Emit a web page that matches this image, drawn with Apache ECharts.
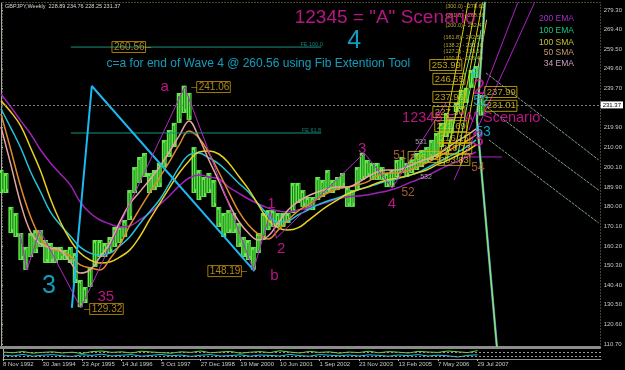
<!DOCTYPE html>
<html>
<head>
<meta charset="utf-8">
<title>GBPJPY Weekly</title>
<script src="https://cdn.jsdelivr.net/npm/echarts@6/dist/echarts.min.js"></script>
<style>
html, body { margin: 0; padding: 0; background: #000; }
#main { width: 625px; height: 370px; }
</style>
</head>
<body>
<div id="main"></div>
<script>
// ---- data (weeks counted from 8 Nov 1992) ----
var lastBar = [228.89, 234.76, 228.25, 231.37];   // O H L C
var dateLabels = ['8 Nov 1992','30 Jan 1994','23 Apr 1995','14 Jul 1996','5 Oct 1997','27 Dec 1998',
	'19 Mar 2000','10 Jun 2001','1 Sep 2002','23 Nov 2003','13 Feb 2005','7 May 2006','29 Jul 2007'];
var dateStepWeeks = 64;
var priceTicks = [110.70,120.60,130.50,140.40,150.30,160.20,170.10,180.00,189.90,200.10,210.00,219.90,
	239.70,249.60,259.50,269.40,279.30];

// price range, one sample every 8 weeks
var sampleWeeks = 8;
var priceHigh = [198.5,197.0,179.9,176.8,166.7,159.7,166.7,168.2,168.2,163.2,
	161.7,159.7,159.7,158.2,159.7,156.6,143.0,139.5,149.6,163.2,
	163.2,161.7,164.7,169.8,169.8,173.3,188.4,200.0,205.1,207.1,
	197.0,198.5,202.1,213.7,218.7,222.3,237.4,241.1,237.4,210.1,
	198.5,195.0,197.0,193.5,179.9,176.8,178.3,176.8,171.8,164.7,
	163.2,159.7,166.7,176.8,178.3,178.3,176.8,176.8,176.8,192.0,
	192.0,188.4,184.9,184.9,195.0,193.5,198.5,193.5,195.0,197.0,
	189.9,188.4,200.0,207.1,203.6,202.1,202.1,200.0,197.0,198.5,
	203.6,205.1,202.1,203.6,207.1,208.6,210.1,213.7,217.2,222.3,
	227.3,224.3,232.4,238.9,240.0,249.0,251.0,236.4];
var priceLow = [186.9,186.9,166.7,164.7,153.1,148.1,154.6,156.6,159.7,151.6,
	151.6,151.6,153.1,153.1,151.6,141.5,129.3,131.4,139.5,149.6,
	154.6,154.6,156.6,159.7,161.7,164.7,173.3,186.9,192.0,195.0,
	186.9,188.4,189.9,200.0,205.1,210.1,222.3,227.3,223.8,186.9,
	183.4,184.9,186.9,179.9,169.8,164.7,166.7,166.7,159.7,154.6,
	153.1,148.2,156.6,163.2,168.2,169.8,169.8,169.8,171.8,176.8,
	181.9,179.9,178.3,178.3,183.4,184.9,186.9,186.9,188.4,189.9,
	179.9,179.9,188.4,193.5,195.0,193.5,193.5,193.5,189.9,189.9,
	195.0,197.0,195.0,197.0,198.5,200.0,202.1,203.6,205.1,210.1,
	215.2,217.0,227.8,229.3,232.4,240.0,245.0,226.0];

// moving averages, one value every 16 weeks
var maWeeks = 16;
var ema200 = [236.9,230.3,223.3,216.7,208.6,202.1,196.5,191.0,182.4,176.8,
	173.3,171.3,169.8,170.3,173.3,176.8,180.9,185.4,190.5,194.5,
	196.0,195.0,194.0,189.9,186.9,183.9,181.4,179.3,177.8,177.3,
	178.3,179.3,180.9,182.4,183.9,184.9,185.4,185.9,186.9,187.9,
	189.4,191.5,193.5,195.5,198.0,200.5,202.6,205.1,207.6];
var ema100 = [229.3,219.7,209.6,197.5,187.4,177.3,170.8,165.2,159.6,156.6,
	155.6,156.6,160.2,164.7,171.3,177.3,183.4,191.5,200.0,206.1,
	207.1,204.6,201.6,197.0,192.0,187.4,181.4,175.8,172.3,172.8,
	175.8,178.3,180.9,182.9,184.4,186.4,188.4,189.9,191.5,193.0,
	194.0,195.5,197.0,199.5,202.1,204.6,207.1,210.1,213.7];
var sma100 = [233.4,227.8,220.7,209.6,198.0,183.9,172.3,163.2,156.6,153.1,
	151.6,152.1,154.6,158.1,164.7,173.3,181.4,189.4,197.0,203.1,
	207.6,208.1,206.6,202.1,195.5,188.9,180.9,173.3,169.3,168.2,
	169.3,172.8,176.8,180.4,183.4,186.4,188.4,189.9,192.0,193.5,
	194.5,195.5,197.0,198.5,201.1,203.1,205.6,208.1,211.2];
var sma50 = [226.8,208.6,189.9,174.8,164.2,158.7,157.6,155.1,150.6,149.1,
	148.1,153.6,160.7,170.3,178.8,186.9,194.5,202.6,211.2,218.2,
	214.7,207.1,197.5,187.4,177.8,170.8,166.2,163.7,168.2,173.3,
	177.8,180.9,183.9,186.9,188.9,189.9,191.0,192.5,195.5,197.0,
	197.0,198.0,200.0,202.1,204.6,207.6,210.6,212.9,216.2];
var ema34 = [220.2,201.1,181.4,167.2,161.2,159.2,158.1,152.1,146.5,148.1,
	154.6,161.7,172.3,181.4,187.4,193.5,200.0,207.6,215.7,223.3,
	214.7,203.6,193.0,181.9,172.8,166.7,163.2,165.2,171.8,178.3,
	182.4,185.4,187.4,188.9,189.9,189.9,192.0,195.0,197.5,198.5,
	198.5,200.0,202.1,204.0,206.1,209.3,212.9,215.8,219.3];

// oscillator in the lower window, one value every 16 weeks
var oscGreen = [70,62,75,58,66,72,60,68,55,74,80,66,72,60,78,70,64,58,72,66,80,62,70,76,58,
	68,74,64,82,70,60,76,66,72,58,70,64,78,62,74,68,60,76,70,66,80,72,64,84];
var oscCyan = [40,30,46,28,38,44,32,26,42,36,48,30,38,44,28,36,46,32,40,26,38,44,30,34,42,
	28,40,36,30,46,34,28,44,38,32,40,30,42,36,28,40,34,44,30,38,32,20,36,42];
var oscLevels = [70, 25];

// drawn objects: [week, price] anchors
var waveCyanLine = [[114.5,128.9],[146.8,240.9],[409.7,147.5]];
var waveZigzag = [[30.6,166.7],[41.9,148.0],[62.9,168.2],[129.0,128.9],[296.8,240.4],[408.1,148.0],
	[435.5,177.3],[445.2,164.2],[587.1,207.1],[632.3,189.4],[719.4,232.4]];
var fe100 = [[112.9,260.56],[517.7,260.56]];
var fe618 = [[112.9,217.2],[517.7,217.2]];
var channelLines = [
	[[783.9,247.5],[966.1,203.6]],
	[[780.6,231.3],[966.1,188.4]],
	[[788.7,213.7],[966.1,171.8]]
];
var purpleRays = [
	[[732.3,193.5],[864.5,284.4]],
	[[756.5,218.7],[837.1,284.4]],
	[[756.5,205.1],[809.7,205.1]]
];
var dropLine = [[782.3,284.4],[769.4,223.8],[801.6,109.2]];
var yellowStreaks = [
	[[708,202.6],[756,284.4]],
	[[721,203.6],[769,284.4]],
	[[734,208.6],[779,284.4]],
	[[743,201.1],[785,274.3]]
];
var greenStreaks = [
	[[716,201.1],[764,264.2]],
	[[737,203.6],[776,269.2]]
];

// text notes: [text, week, price]
var waveMagenta = [['a',264.5,240.4],['35',169.4,134.4],['b',442,145.0],['1',437,181.4],
	['2',453,158.6],['3',584,209.1],['4',632,181.4]];
var waveCyan = [['3',77.4,140.0],['4',571,263.6]];
var subOrange = [['52',658,186.9],['51',645,205.6],['54',771,199.5]];
var subGray = [['531',679,212.7],['532',687,195.0]];
var boxesDashLeft = [['241.06',339,240.4],['129.32',166,128.4]];
var boxesDashRight = [['260.56',211,260.6],['148.19',366,147.5]];
var fibBoxes = [['205.12',684,205.1],['203.83',732,203.6],['253.99',719,251.5],['246.55',724,244.5],
	['237.96',724,235.4],['237.99',808,237.9],['231.01',808,230.9],['227.30',724,227.8],
	['222.69',727,220.7],['216.15',732,214.7],['210.73',735,209.6]];
var fibTexts = [['(300.0) - 278.61',750,280.8],['(261.8) - 268.58',750,276.3],['(200.0) - 252.47',750,271.7],
	['(161.8) - 242.50',747,265.2],['(138.2) - 236.38',747,261.6],['(127.2) - 233.51',747,258.1],
	['(100.0) - 226.44',747,254.6]];
var clusterMagenta = [['2',773,239.9],['3',771,213.7]];
var clusterCyan = [['8',766,247.0],['52',776,233.4],['53',779,217.7]];
var scenarioBig = [['12345 = "A" Scenario',621,275.3]];
var scenarioSmall = [['12345 = "A" Scenario',760,224.8]];
var comment = [['c=a for end of Wave 4 @ 260.56 using Fib Extention Tool',416,252.0]];
var feLabels = [['FE 100.0',502,262.1],['FE 61.8',502,218.7]];

var maNames = ['200 EMA','100 EMA','100 SMA','50 SMA','34 EMA'];

// ---- chart ----
var FONT = "'Liberation Sans', Arial, sans-serif";
var chart = echarts.init(document.getElementById('main'));

var priceData = priceHigh.map(function(h, i){ return [i * sampleWeeks, priceLow[i], h]; });
function maData(arr){ return arr.map(function(v, i){ return [i * maWeeks, v]; }); }

function seg(points, color, width, z, type){
	return {type:'line', xAxisIndex:0, yAxisIndex:0, data:points, symbol:'none', silent:true,
		lineStyle:{color:color, width:width, type:type || 'solid'}, z:z || 4};
}
function maLine(arr, color){
	return {type:'line', xAxisIndex:0, yAxisIndex:0, data:maData(arr), symbol:'none', smooth:0.4,
		silent:true, lineStyle:{color:color, width:1.5}, z:3};
}
function notes(list, label, z){
	return {type:'scatter', xAxisIndex:0, yAxisIndex:0, symbolSize:1, silent:true, z:z || 6,
		itemStyle:{color:'transparent'},
		data:list.map(function(n){ return {name:n[0], value:[n[1], n[2]]}; }),
		label:Object.assign({show:true, position:'inside', formatter:'{b}', fontFamily:FONT}, label)};
}
var MAGENTA = '#e41ca4';
var CYAN = '#18c4ec';
var boxRich = {
	d:{color:'#c89a00', fontSize:10, fontFamily:FONT},
	b:{color:'#d8a820', fontSize:10, fontFamily:FONT, borderColor:'#c89a00', borderWidth:1, padding:[1,1,0,2]}
};

var series = [];
// weekly range bars, drawn at sample resolution
series.push({
	type:'custom', xAxisIndex:0, yAxisIndex:0, z:2, silent:true,
	encode:{x:0, y:[1,2]},
	data:priceData,
	renderItem:function(params, api){
		var top = api.coord([api.value(0), api.value(2)]);
		var bot = api.coord([api.value(0), api.value(1)]);
		var w = api.size([sampleWeeks, 0])[0];
		return {type:'group', children:[
			{type:'rect', shape:{x:top[0] - w / 2, y:top[1], width:w, height:bot[1] - top[1]}, style:{fill:'#6ae452'}},
			{type:'line', shape:{x1:top[0] - 0.5, y1:top[1] + 3, x2:top[0] - 0.5, y2:bot[1] - 1}, style:{stroke:'#0b860b', lineWidth:1}},
			{type:'line', shape:{x1:top[0] + 1.5, y1:top[1] + 1, x2:top[0] + 1.5, y2:bot[1] - 4}, style:{stroke:'#1c9c18', lineWidth:1}}
		]};
	}
});
series.push(maLine(ema200, '#a020b8'));
series.push(maLine(ema100, '#22c4dc'));
series.push(maLine(sma100, '#e8d020'));
series.push(maLine(sma50, '#e08a30'));
series.push(maLine(ema34, '#e6a6a0'));

// current price line
series.push({type:'line', xAxisIndex:0, yAxisIndex:0, data:[], silent:true,
	markLine:{symbol:'none', silent:true, data:[{yAxis:lastBar[3]}],
		lineStyle:{color:'#7c7c7c', type:[2,2], width:1},
		label:{position:'end', distance:1, formatter:lastBar[3].toFixed(2), backgroundColor:'#fff',
			color:'#000', fontSize:6, fontFamily:FONT, padding:[1,2,0,2]}}});

series.push(seg(fe100, '#1a9080', 1));
series.push(seg(fe618, '#1a9080', 1));
series.push(seg(waveCyanLine, '#1cb8f0', 2));
series.push(seg(waveZigzag, '#b02cc4', 1));
channelLines.forEach(function(l){ series.push(seg(l, '#7fa08c', 1, 4, [3,1])); });
purpleRays.forEach(function(l){ series.push(seg(l, '#b020c8', 1)); });
yellowStreaks.forEach(function(l){ series.push(seg(l, '#e0d010', 1)); });
greenStreaks.forEach(function(l){ series.push(seg(l, '#80f060', 1)); });
series.push(seg(dropLine, '#3a70c8', 2.5, 4));
series.push(seg(dropLine, '#8ee860', 1.5, 5));

series.push(notes(waveMagenta, {color:MAGENTA, fontSize:15}));
series.push(notes(waveCyan, {color:CYAN, fontSize:25}));
series.push(notes(subOrange, {color:'#c87040', fontSize:12}));
series.push(notes(subGray, {color:'#c8c8c8', fontSize:7}));
series.push(notes(boxesDashLeft, {formatter:function(p){ return '{d|–}{b|' + p.name + '}'; }, rich:boxRich}));
series.push(notes(boxesDashRight, {formatter:function(p){ return '{b|' + p.name + '}{d|–}'; }, rich:boxRich}));
series.push(notes(fibTexts, {color:'#e8d040', fontSize:5.5}));
series.push(notes(fibBoxes, {color:'#e8c820', fontSize:9.5, borderColor:'#d8b800', borderWidth:1, padding:[1,1,0,2]}));
series.push(notes(clusterMagenta, {color:MAGENTA, fontSize:22}, 7));
series.push(notes(clusterCyan, {color:CYAN, fontSize:14}, 7));
series.push(notes(scenarioBig, {color:MAGENTA, fontSize:19}));
series.push(notes(scenarioSmall, {color:MAGENTA, fontSize:14.5}, 7));
series.push(notes(comment, {color:CYAN, fontSize:12}));
series.push(notes(feLabels, {color:'#1aa090', fontSize:5.5}));

// lower window
series.push({type:'line', xAxisIndex:1, yAxisIndex:1, data:maData(oscCyan), symbol:'none', silent:true,
	lineStyle:{color:'#22c4dc', width:1},
	markLine:{symbol:'none', silent:true, data:oscLevels.map(function(v){ return {yAxis:v}; }),
		lineStyle:{color:'#999999', type:[2,2], width:1}, label:{show:false}}});
series.push({type:'line', xAxisIndex:1, yAxisIndex:1, data:maData(oscGreen), symbol:'none', silent:true,
	lineStyle:{color:'#5ae03c', width:1}});

var dateTicks = dateLabels.map(function(d, i){ return i * dateStepWeeks; });

var graphics = [
	{type:'rect', silent:true, z:-1, shape:{x:2.5, y:2.5, width:598, height:344},
		style:{fill:'transparent', stroke:'#8a8a5a', lineWidth:1, lineDash:[1,2]}},
	{type:'text', silent:true, x:5, y:6, style:{text:'GBPJPY,Weekly  ' + lastBar.join(' '),
		fill:'#d8d8d8', font:'5.5px ' + FONT, verticalAlign:'middle'}}
];
var legendColors = ['#a030c8','#10c880','#c8c030','#c89a70','#c8a0c0'];
var legendY = [19, 31, 43, 53, 64];
maNames.forEach(function(n, i){
	graphics.push({type:'text', silent:true, x:574, y:legendY[i], style:{text:n, fill:legendColors[i],
		font:'8.5px ' + FONT, align:'right', verticalAlign:'middle'}});
});

var option = {
	backgroundColor:'#000',
	animation:false,
	textStyle:{fontFamily:FONT},
	grid:[
		{left:1, right:24, top:3, bottom:23},
		{left:1, right:24, top:349, bottom:11}
	],
	xAxis:[
		{type:'value', gridIndex:0, min:0, max:967.7,
			axisLine:{show:true, onZero:false, lineStyle:{color:'#8c8c8c', width:3}},
			axisTick:{show:false}, axisLabel:{show:false}, splitLine:{show:false}},
		{type:'value', gridIndex:1, min:0, max:967.7,
			axisLine:{show:true, onZero:false, lineStyle:{color:'#8c8c8c', width:1}},
			axisTick:{show:true, customValues:dateTicks, length:2, lineStyle:{color:'#bbbbbb'}},
			axisLabel:{customValues:dateTicks, align:'left', margin:2, fontSize:6, color:'#c8c8c8',
				formatter:function(v){ return dateLabels[Math.round(v / dateStepWeeks)] || ''; }},
			splitLine:{show:false}}
	],
	yAxis:[
		{type:'value', gridIndex:0, position:'right', min:109.2, max:282.8,
			axisLine:{show:true, lineStyle:{color:'#a8a8a8'}},
			axisTick:{show:true, customValues:priceTicks, length:2, lineStyle:{color:'#a8a8a8'}},
			axisLabel:{customValues:priceTicks, margin:4, fontSize:6, color:'#c8c8c8',
				formatter:function(v){ return v.toFixed(2); }},
			splitLine:{show:false}},
		{type:'value', gridIndex:1, position:'right', min:0, max:100,
			axisLine:{show:true, lineStyle:{color:'#a8a8a8'}},
			axisTick:{show:false}, axisLabel:{show:false}, splitLine:{show:false}}
	],
	graphic:graphics,
	series:series
};
chart.setOption(option);
</script>
</body>
</html>
